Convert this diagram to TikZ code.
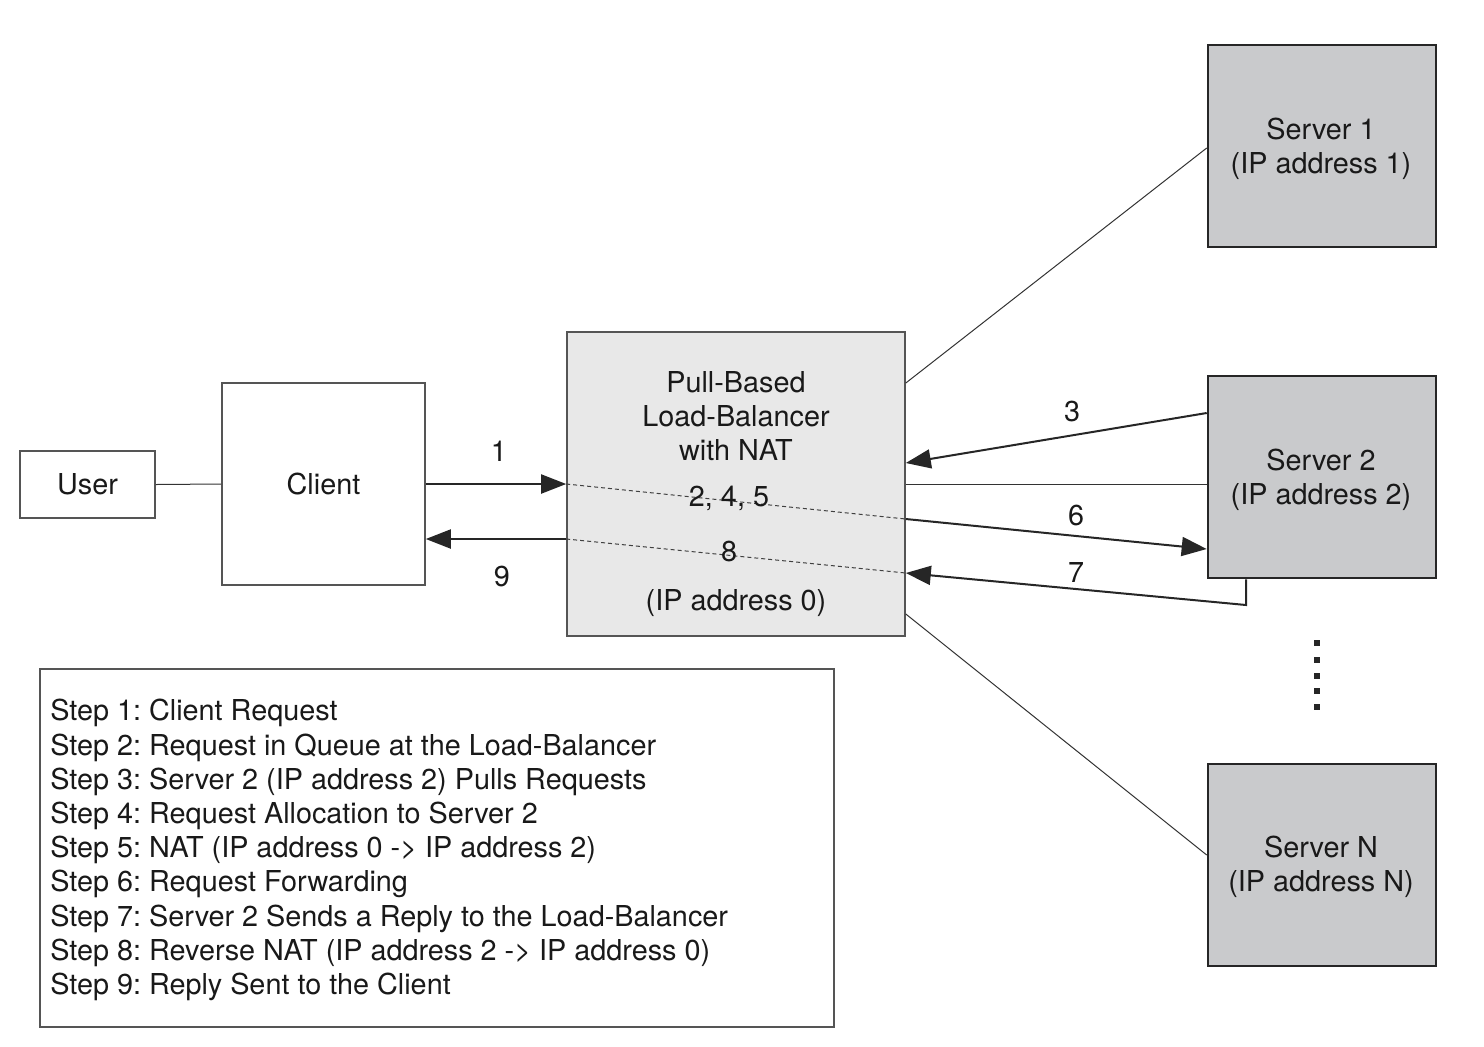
\documentclass[tikz,border=0pt]{standalone}
\usepackage{fontspec}
\setmainfont{TeX Gyre Heros}
\usetikzlibrary{arrows.meta}
\definecolor{lbfill}{HTML}{E8E8E8}
\definecolor{srvfill}{HTML}{C9CACC}
\definecolor{edge}{HTML}{555555}
\frenchspacing
\begin{document}
\begin{tikzpicture}[x=0.5pt,y=-0.5pt,
  every node/.style={font=\fontsize{14.4pt}{17.1pt}\selectfont, text=black!90, inner sep=0pt},
  plainbox/.style={draw=edge, line width=0.8pt, fill=white},
  lbbox/.style={draw=edge, line width=0.8pt, fill=lbfill},
  srvbox/.style={draw=black!85, line width=1.3pt, fill=srvfill},
  thinline/.style={draw=black!80, line width=0.5pt},
  arr/.style={draw=black!85, line width=1pt, -{Triangle[length=12.5pt,width=9.5pt]}},
  dotline/.style={draw=black!75, line width=0.5pt, dash pattern=on 2pt off 1.5pt},
  dotsq/.style={fill=black!85, minimum size=3pt}
]
\useasboundingbox (0,0) rectangle (1484,1046);

% nodes
\node[plainbox, minimum width=67.5pt, minimum height=33.5pt] (user) at (87.5,484.5) {User};
\node[plainbox, minimum width=101.5pt, minimum height=101pt] (client) at (323.5,484) {Client};
\node[lbbox, minimum width=169pt, minimum height=152pt] (lb) at (736,484) {};
\node[align=center] (lbtext) at (736,416) {Pull-Based\\Load-Balancer\\with NAT};
\node (lbip) at (736,603) {(IP address 0)};
\node[srvbox, minimum width=114pt, minimum height=101pt] (s1) at (1322,146) {};
\node[srvbox, minimum width=114pt, minimum height=101pt] (s2) at (1322,477) {};
\node[srvbox, minimum width=114pt, minimum height=101pt] (sn) at (1322,865) {};
\node[align=center] (s1t) at (1321,149) {Server 1\\(IP address 1)};
\node[align=center] (s2t) at (1321,480) {Server 2\\(IP address 2)};
\node[align=center] (snt) at (1321,867) {Server N\\(IP address N)};
\node[plainbox, minimum width=397pt, minimum height=179pt] (steps) at (437,848) {};
\node[align=left, anchor=north west] (stepstext) at (50,699) {Step 1: Client Request\\
Step 2: Request in Queue at the Load-Balancer\\
Step 3: Server 2 (IP address 2) Pulls Requests\\
Step 4: Request Allocation to Server 2\\
Step 5: NAT (IP address 0 -> IP address 2)\\
Step 6: Request Forwarding\\
Step 7: Server 2 Sends a Reply to the Load-Balancer\\
Step 8: Reverse NAT (IP address 2 -> IP address 0)\\
Step 9: Reply Sent to the Client};

% plain connectors
\draw[thinline] (user.east) -- (client.west);
\draw[thinline] (lb.east |- 0,484) -- (s2.west |- 0,484);
\draw[thinline] (lb.east |- 0,383) -- (s1.west |- 0,148);
\draw[thinline] (lb.east |- 0,614) -- (sn.west |- 0,855);

% dotted internal paths
\coordinate (d1a) at (lb.west |- 0,484);
\coordinate (d1b) at (lb.east |- 0,519);
\coordinate (d2a) at (lb.west |- 0,539);
\coordinate (d2b) at (lb.east |- 0,573);
\draw[dotline] (d1a) -- (d1b);
\draw[dotline] (d2a) -- (d2b);

% arrows
\draw[arr] (client.east |- 0,484) -- (d1a);
\draw[arr] (d2a) -- (client.east |- 0,539);
\draw[arr] (s2.west |- 0,413) -- (lb.east |- 0,463);
\draw[arr] (d1b) -- (s2.west |- 0,549);
\coordinate (c7) at (1246,605);
\draw[arr] (s2.south -| c7) -- (c7) -- (d2b);

% labels
\node (l1) at (499,451) {1};
\node (l9) at (502,576) {9};
\node (l3) at (1072,411) {3};
\node (l6) at (1076,515) {6};
\node (l7) at (1076,572) {7};
\node (l245) at (729,498) {2, 4, 5};
\node (l8) at (729,551) {8};

% vertical dots
\foreach \yy [count=\i] in {643,660,676,691,707}
  \node[dotsq] (dot\i) at (1317,\yy) {};
\end{tikzpicture}
\end{document}
